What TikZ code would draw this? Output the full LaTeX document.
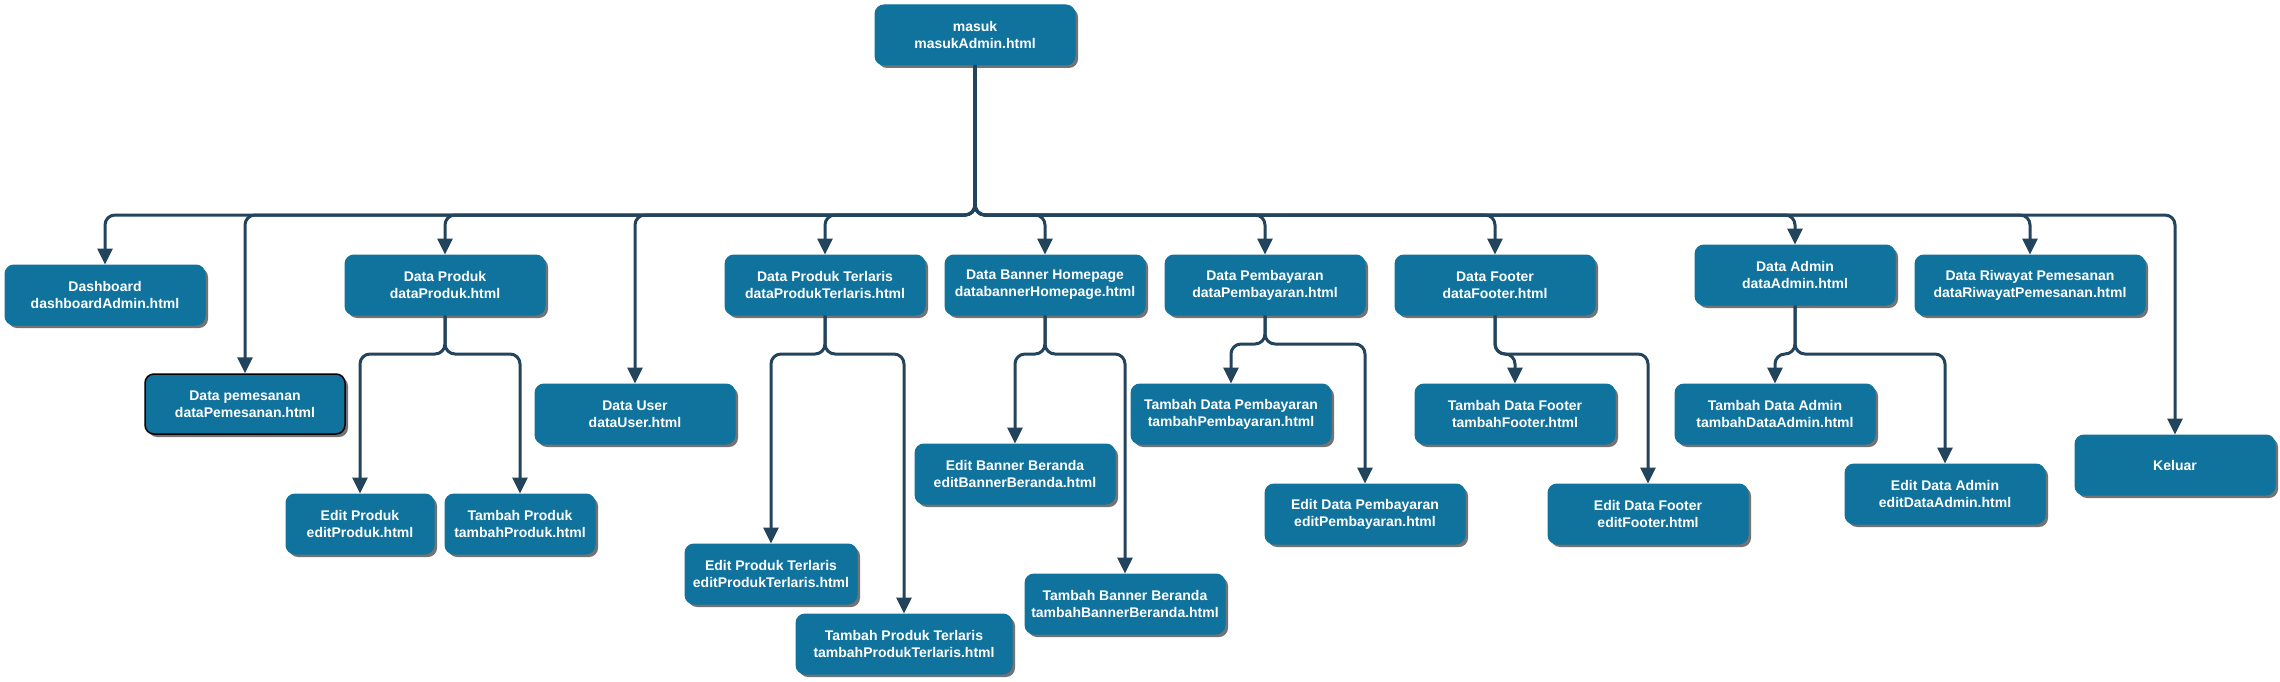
\documentclass[tikz,border=0pt]{standalone}
\usepackage{fontspec}
\setmainfont{Liberation Sans}
\usetikzlibrary{arrows.meta,shadows}
\definecolor{nodeblue}{HTML}{10739E}
\definecolor{edgedark}{HTML}{23445D}
\begin{document}
\begin{tikzpicture}[x=1pt,y=-1pt,
  box/.style={rectangle, rounded corners=9pt, fill=nodeblue, draw=nodeblue, line width=1pt,
    text=white, font=\fontsize{14}{17}\selectfont\bfseries, align=center,
    minimum width=200pt, minimum height=60pt, inner sep=0pt,
    drop shadow={shadow xshift=3pt, shadow yshift=-3pt, opacity=0.55, fill=black}},
  edge/.style={draw=edgedark, line width=3pt, rounded corners=10pt,
    -{Triangle[length=16pt,width=15pt]}}
]
\useasboundingbox (0,0) rectangle (2280,682);

% top
\node[box] (masuk) at (975,35) {masuk\\masukAdmin.html};

% level 1
\node[box] (dash) at (105,295) {Dashboard\\dashboardAdmin.html};
\node[box, draw=black, line width=1.5pt] (pesan) at (245,404) {Data pemesanan\\dataPemesanan.html};
\node[box] (produk) at (445,285) {Data Produk\\dataProduk.html};
\node[box] (user) at (635,414) {Data User\\dataUser.html};
\node[box] (terlaris) at (825,285) {Data Produk Terlaris\\dataProdukTerlaris.html};
\node[box] (banner) at (1045,285) {Data Banner Homepage\\databannerHomepage.html};
\node[box] (bayar) at (1265,285) {Data Pembayaran\\dataPembayaran.html};
\node[box] (footer) at (1495,285) {Data Footer\\dataFooter.html};
\node[box] (admin) at (1795,275) {Data Admin\\dataAdmin.html};
\node[box, minimum width=230pt] (riwayat) at (2030,285) {Data Riwayat Pemesanan\\dataRiwayatPemesanan.html};
\node[box] (keluar) at (2175,465) {Keluar};

% level 2
\node[box, minimum width=148pt] (editproduk) at (360,524) {Edit Produk\\editProduk.html};
\node[box, minimum width=150pt] (tambahproduk) at (520,524) {Tambah Produk\\tambahProduk.html};
\node[box, minimum width=172pt] (editterlaris) at (771,574) {Edit Produk Terlaris\\editProdukTerlaris.html};
\node[box, minimum width=216pt] (tambahterlaris) at (904,644) {Tambah Produk Terlaris\\tambahProdukTerlaris.html};
\node[box] (editbanner) at (1015,474) {Edit Banner Beranda\\editBannerBeranda.html};
\node[box] (tambahbanner) at (1125,604) {Tambah Banner Beranda\\tambahBannerBeranda.html};
\node[box] (tambahbayar) at (1231,414) {Tambah Data Pembayaran\\tambahPembayaran.html};
\node[box] (editbayar) at (1365,514) {Edit Data Pembayaran\\editPembayaran.html};
\node[box] (tambahfooter) at (1515,414) {Tambah Data Footer\\tambahFooter.html};
\node[box] (editfooter) at (1648,514) {Edit Data Footer\\editFooter.html};
\node[box] (tambahadmin) at (1775,414) {Tambah Data Admin\\tambahDataAdmin.html};
\node[box] (editadmin) at (1945,494) {Edit Data Admin\\editDataAdmin.html};

% split coordinates
\coordinate (bus) at (975,215);
\coordinate (sprod) at (445,354);
\coordinate (sterl) at (825,354);
\coordinate (sban) at (1045,354);
\coordinate (sbay) at (1265,344);
\coordinate (sfoot) at (1495,354);
\coordinate (sadm) at (1795,354);

% edges from masuk
\foreach \t in {dash,pesan,produk,user,terlaris,banner,bayar,footer,admin,riwayat,keluar}
  \draw[edge] (masuk.south) -- (bus) -| (\t.north);

% second level edges
\foreach \t in {editproduk,tambahproduk}
  \draw[edge] (produk.south) -- (sprod) -| (\t.north);
\foreach \t in {editterlaris,tambahterlaris}
  \draw[edge] (terlaris.south) -- (sterl) -| (\t.north);
\foreach \t in {editbanner,tambahbanner}
  \draw[edge] (banner.south) -- (sban) -| (\t.north);
\foreach \t in {tambahbayar,editbayar}
  \draw[edge] (bayar.south) -- (sbay) -| (\t.north);
\foreach \t in {tambahfooter,editfooter}
  \draw[edge] (footer.south) -- (sfoot) -| (\t.north);
\foreach \t in {tambahadmin,editadmin}
  \draw[edge] (admin.south) -- (sadm) -| (\t.north);
\end{tikzpicture}
\end{document}
